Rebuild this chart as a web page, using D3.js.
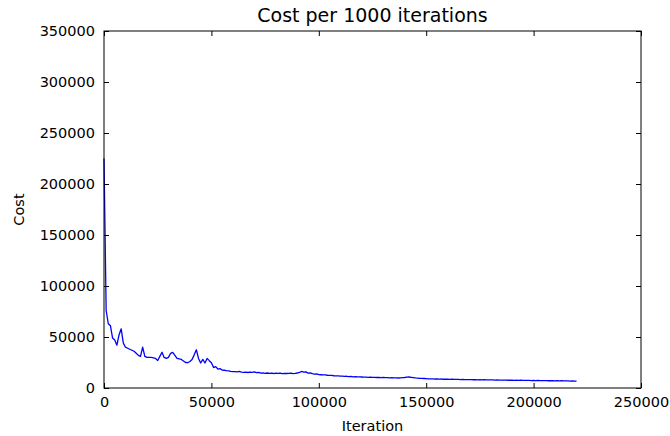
<!DOCTYPE html>
<html>
<head>
<meta charset="utf-8">
<script src="https://cdn.jsdelivr.net/npm/d3@7"></script>
<style>
  body { margin: 0; background: #fff; }
  text { font-family: "DejaVu Sans", sans-serif; fill: #000; }
</style>
</head>
<body>
<svg id="chart" width="670" height="436"></svg>
<script>
// cost sampled every 1000 iterations (index * 1000 = iteration)
var costs = [
  225000, 76000, 63000, 61000, 49000, 47000, 42000, 52000, 58000, 44000,
  40000, 39000, 38000, 37000, 36000, 34000, 32000, 31000, 40000, 31000,
  30000, 30000, 30000, 29500, 29000, 27000, 31000, 35000, 30000, 29000,
  30000, 34000, 35000, 32000, 29000, 28500, 28000, 26500, 25000, 24800,
  26000, 28000, 32500, 37500, 29000, 24500, 28000, 24500, 29000, 26800,
  24800, 20000, 21000, 18600, 19000, 17600, 17400, 17000, 16700, 16200,
  16000, 16000, 15800, 16200, 15600, 15300, 15500, 15200, 15600, 15400,
  15800, 15000, 15300, 14600, 14800, 14400, 14700, 14300, 14500, 14200,
  14600, 14300, 14500, 14100, 14400, 14200, 14300, 14600, 14100, 14300,
  14700, 15300, 16200, 15500, 15800, 14600, 14900, 14000, 13600, 13800,
  13200, 13000, 12800, 12900, 12500, 12300, 12400, 12000, 11900, 11800,
  11700, 11600, 11400, 11500, 11200, 11300, 11000, 11100, 10900, 11000,
  10800, 10600, 10700, 10500, 10600, 10400, 10500, 10300, 10400, 10200,
  10300, 10100, 10200, 10000, 10100, 9900, 10000, 9800, 9900, 10100,
  10300, 10600, 10800, 10500, 10200, 9900, 9700, 9500, 9400, 9300,
  9200, 9000, 8900, 9000, 8800, 8900, 8700, 8800, 8600, 8700,
  8600, 8500, 8600, 8400, 8500, 8400, 8300, 8400, 8300, 8200,
  8300, 8200, 8100, 8200, 8000, 8100, 8000, 8100, 7900, 8000,
  7900, 8000, 7800, 7900, 7800, 7700, 7800, 7700, 7600, 7700,
  7600, 7500, 7600, 7500, 7600, 7400, 7500, 7400, 7500, 7300,
  7400, 7300, 7400, 7200, 7300, 7200, 7300, 7100, 7200, 7100,
  7000, 7100, 7000, 7100, 6900, 7000, 6900, 6800, 6900, 6800,
  6800
];
var xTicks = [0, 50000, 100000, 150000, 200000, 250000];
var yTicks = [0, 50000, 100000, 150000, 200000, 250000, 300000, 350000];

var svg = d3.select("#chart");
var margin = {left: 104, right: 29, top: 31, bottom: 48};
var width = 670 - margin.left - margin.right,
    height = 436 - margin.top - margin.bottom;

var x = d3.scaleLinear().domain([0, 250000]).range([0, width]);
var y = d3.scaleLinear().domain([0, 350000]).range([height, 0]);

var g = svg.append("g")
    .attr("transform", "translate(" + margin.left + "," + margin.top + ")");

// the line itself
var line = d3.line()
    .x(function(d, i) { return x(i * 1000); })
    .y(function(d) { return y(d); });

g.append("path")
    .datum(costs)
    .attr("fill", "none")
    .attr("stroke", "#0000ff")
    .attr("stroke-width", 1.3)
    .attr("stroke-linejoin", "round")
    .attr("d", line);

// axes, ticks pointing inward like matplotlib classic
var fmt = d3.format("d");
var tickLen = 5;

var xAxis = g.append("g")
    .attr("transform", "translate(0," + height + ")")
    .call(d3.axisBottom(x).tickValues(xTicks).tickFormat(fmt).tickSizeInner(-tickLen).tickSizeOuter(0).tickPadding(9));
var xTop = g.append("g")
    .call(d3.axisTop(x).tickValues(xTicks).tickFormat("").tickSizeInner(-tickLen).tickSizeOuter(0));
var yAxis = g.append("g")
    .call(d3.axisLeft(y).tickValues(yTicks).tickFormat(fmt).tickSizeInner(-tickLen).tickSizeOuter(0).tickPadding(9));
var yRight = g.append("g")
    .attr("transform", "translate(" + width + ",0)")
    .call(d3.axisRight(y).tickValues(yTicks).tickFormat("").tickSizeInner(-tickLen).tickSizeOuter(0));

[xAxis, xTop, yAxis, yRight].forEach(function(a) {
    a.select(".domain").remove();
    a.selectAll("line").attr("stroke", "#000");
    a.selectAll("text")
        .style("font-family", "DejaVu Sans, sans-serif")
        .style("font-size", "14.5px");
});

// frame
g.append("rect")
    .attr("width", width)
    .attr("height", height)
    .attr("fill", "none")
    .attr("stroke", "#000")
    .attr("stroke-width", 1);

// title and labels
svg.append("text")
    .attr("x", margin.left + width / 2)
    .attr("y", 22)
    .attr("text-anchor", "middle")
    .style("font-size", "19px")
    .text("Cost per 1000 iterations");

svg.append("text")
    .attr("x", margin.left + width / 2)
    .attr("y", 431)
    .attr("text-anchor", "middle")
    .style("font-size", "14.5px")
    .text("Iteration");

svg.append("text")
    .attr("transform", "translate(24," + (margin.top + height / 2) + ") rotate(-90)")
    .attr("text-anchor", "middle")
    .style("font-size", "14.5px")
    .text("Cost");
</script>
</body>
</html>
